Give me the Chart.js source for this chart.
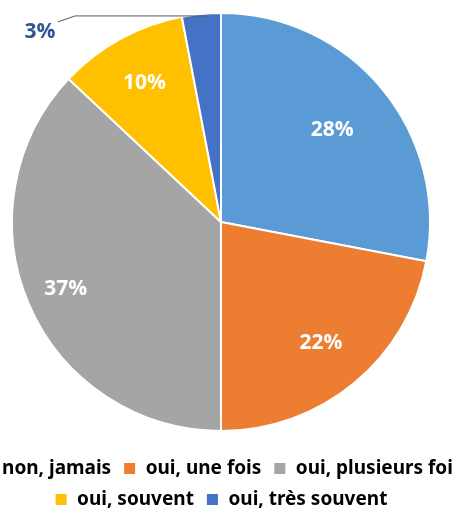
<!DOCTYPE html>
<html>
<head>
<meta charset="utf-8">
<script src="https://cdn.jsdelivr.net/npm/chart.js@4.4.1/dist/chart.umd.min.js"></script>
<style>
  html, body { margin: 0; padding: 0; background: #fff; overflow: hidden; }
  body { width: 452px; height: 509px; position: relative; }
  #chart { position: absolute; left: -49px; top: -3px; }
</style>
</head>
<body>
<canvas id="chart" width="540" height="522"></canvas>
<script>
const categories = ['non, jamais', 'oui, une fois', 'oui, plusieurs fois', 'oui, souvent', 'oui, très souvent'];
const shares = [28, 22, 37, 10, 3];
const sliceColors = ['#5B9BD5', '#ED7D31', '#A5A5A5', '#FFC000', '#4472C4'];

// where each percentage sits, as a fraction of the radius (0 = outside label)
const labelRadius = [0.69, 0.75, 0.81, 0.76, 0];

// draws the percentages, the small slice gets an outside label with a leader line
const pieLabels = {
  id: 'pieLabels',
  afterDatasetsDraw(chart) {
    const ctx = chart.ctx;
    const meta = chart.getDatasetMeta(0);
    ctx.save();
    ctx.font = 'bold 21px "Open Sans"';
    ctx.textAlign = 'center';
    ctx.textBaseline = 'middle';
    meta.data.forEach((arc, i) => {
      const p = arc.getProps(['x', 'y', 'startAngle', 'endAngle', 'outerRadius']);
      const mid = (p.startAngle + p.endAngle) / 2;
      const text = shares[i] + '%';
      if (labelRadius[i] > 0) {
        const r = p.outerRadius * labelRadius[i];
        ctx.fillStyle = '#ffffff';
        ctx.fillText(text, p.x + Math.cos(mid) * r, p.y + Math.sin(mid) * r);
      } else {
        const ex = p.x + Math.cos(mid) * p.outerRadius;
        const ey = p.y + Math.sin(mid) * p.outerRadius;
        const elbowX = p.x - 146, elbowY = ey + 2;
        ctx.strokeStyle = '#595959';
        ctx.lineWidth = 1;
        ctx.beginPath();
        ctx.moveTo(ex + 4, elbowY);
        ctx.lineTo(elbowX, elbowY);
        ctx.lineTo(elbowX - 17, elbowY + 6);
        ctx.stroke();
        ctx.fillStyle = '#2F5597';
        ctx.fillText(text, elbowX - 35, elbowY + 16);
      }
    });
    ctx.restore();
  }
};

new Chart(document.getElementById('chart'), {
  type: 'pie',
  data: {
    labels: categories,
    datasets: [{
      data: shares,
      backgroundColor: sliceColors,
      borderColor: '#ffffff',
      borderWidth: 2
    }]
  },
  options: {
    responsive: false,
    animation: false,
    radius: 209,
    layout: { padding: 0 },
    plugins: {
      tooltip: { enabled: false },
      legend: {
        position: 'bottom',
        labels: {
          color: '#000000',
          boxWidth: 13,
          boxHeight: 13,
          padding: 12,
          font: { family: 'Noto Sans', size: 19, weight: 'bold' }
        }
      }
    }
  },
  plugins: [pieLabels]
});
</script>
</body>
</html>
